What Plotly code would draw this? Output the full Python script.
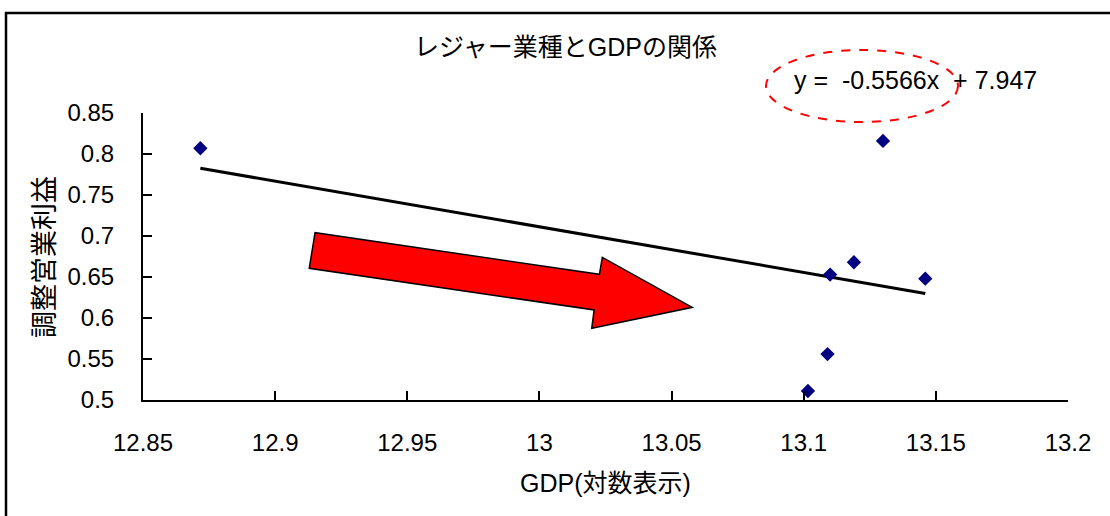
import plotly.graph_objects as go

# ---- data ----
gdp_log = [12.8717, 13.1016, 13.109, 13.110, 13.119, 13.130, 13.146]
adj_profit = [0.807, 0.511, 0.556, 0.653, 0.668, 0.816, 0.648]
trend_slope = -0.5566
trend_intercept = 7.947
x_tick_vals = [12.85, 12.9, 12.95, 13.0, 13.05, 13.1, 13.15, 13.2]
x_tick_text = ["12.85", "12.9", "12.95", "13", "13.05", "13.1", "13.15", "13.2"]
y_tick_vals = [0.5, 0.55, 0.6, 0.65, 0.7, 0.75, 0.8, 0.85]
y_tick_text = ["0.5", "0.55", "0.6", "0.65", "0.7", "0.75", "0.8", "0.85"]
title_text = "レジャー業種とGDPの関係"
x_title = "GDP(対数表示)"
y_title = "調整営業利益"
eq_text = "y =  -0.5566x  + 7.947"

# decorative arrow outline (data coordinates)
arrow_x = [12.9151, 12.9129, 13.0207, 13.0198, 13.0578, 13.0238, 13.0227]
arrow_y = [0.7040, 0.6606, 0.6098, 0.5874, 0.6130, 0.6740, 0.6533]

FONT = "Liberation Sans, Arial, Noto Sans CJK JP, sans-serif"

fig = go.Figure()

# trend line
tx = [min(gdp_log), max(gdp_log)]
ty = [trend_slope * v + trend_intercept for v in tx]
fig.add_trace(go.Scatter(x=tx, y=ty, mode="lines",
                         line=dict(color="black", width=3),
                         showlegend=False, hoverinfo="skip"))

fig.add_trace(go.Scatter(x=gdp_log, y=adj_profit, mode="markers",
                         marker=dict(symbol="diamond", size=11, color="#000080",
                                     line=dict(width=0)),
                         showlegend=False))

path = "M " + " L ".join(f"{a},{b}" for a, b in zip(arrow_x, arrow_y)) + " Z"
fig.add_shape(type="path", path=path, xref="x", yref="y",
              fillcolor="#FF0000", line=dict(color="black", width=1.5), layer="above")

# outer chart border
fig.add_shape(type="rect", xref="paper", yref="paper",
              x0=(6 - 143) / 925, x1=(1120 - 143) / 925,
              y0=(400 - 530) / 287, y1=(400 - 13) / 287,
              line=dict(color="black", width=2.5), fillcolor="rgba(0,0,0,0)", layer="below")

# dashed ellipse around the equation
fig.add_shape(type="circle", xref="paper", yref="paper",
              x0=(766 - 143) / 925, x1=(958 - 143) / 925,
              y0=(400 - 122) / 287, y1=(400 - 50) / 287,
              line=dict(color="#FF0000", width=2, dash="dash"))

fig.add_annotation(text=eq_text, xref="paper", yref="paper",
                   x=(792 - 143) / 925, y=(400 - 80) / 287,
                   xanchor="left", yanchor="middle", showarrow=False,
                   font=dict(family=FONT, size=25, color="black"))

fig.add_annotation(text=title_text, xref="paper", yref="paper",
                   x=(565 - 143) / 925, y=(400 - 47) / 287,
                   xanchor="center", yanchor="middle", showarrow=False,
                   font=dict(family=FONT, size=25, color="black"))

fig.add_annotation(text=x_title, xref="paper", yref="paper",
                   x=(605 - 143) / 925, y=(400 - 483) / 287,
                   xanchor="center", yanchor="middle", showarrow=False,
                   font=dict(family=FONT, size=25, color="black"))

fig.add_annotation(text=y_title, xref="paper", yref="paper",
                   x=(45 - 143) / 925, y=(400 - 257) / 287,
                   xanchor="center", yanchor="middle", showarrow=False, textangle=-90,
                   font=dict(family=FONT, size=27, color="black"))

fig.update_layout(
    width=1110, height=516,
    margin=dict(l=143, r=42, t=113, b=116),
    paper_bgcolor="white", plot_bgcolor="white",
    font=dict(family=FONT, color="black"),
    xaxis=dict(range=[12.85, 13.2], tickvals=x_tick_vals, ticktext=x_tick_text,
               showgrid=False, zeroline=False, showline=True, linecolor="black", linewidth=2,
               ticks="inside", ticklen=9, tickwidth=1.5, tickcolor="black",
               tickfont=dict(family=FONT, size=24, color="black"), ticklabelstandoff=20),
    yaxis=dict(range=[0.5, 0.85], tickvals=y_tick_vals, ticktext=y_tick_text,
               showgrid=False, zeroline=False, showline=True, linecolor="black", linewidth=2,
               ticks="inside", ticklen=9, tickwidth=1.5, tickcolor="black",
               tickfont=dict(family=FONT, size=24, color="black"), ticklabelstandoff=22),
)

fig.write_html("out.html")
